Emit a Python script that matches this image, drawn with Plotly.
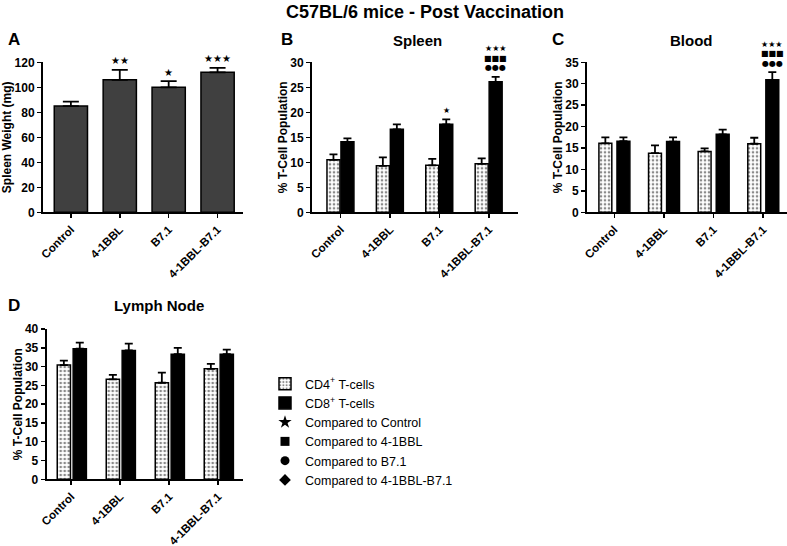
import plotly.graph_objects as go

W, H = 787, 546
FONT = "Arial, Liberation Sans, sans-serif"

categories = ["Control", "4-1BBL", "B7.1", "4-1BBL-B7.1"]

spleen_weight = [85, 106, 100, 112]
spleen_weight_err = [3.5, 8, 5, 3.5]
spleen_weight_sig = [[], ["★★"], ["★"], ["★★★"]]

spleen_cd4 = [10.5, 9.3, 9.4, 9.7]
spleen_cd4_err = [1.1, 1.7, 1.3, 1.1]
spleen_cd8 = [14.1, 16.6, 17.6, 26.1]
spleen_cd8_err = [0.7, 1.0, 1.0, 1.0]
spleen_cd8_sig = [[], [], ["★"], ["★★★", "■■■", "●●●"]]

blood_cd4 = [16.1, 13.8, 14.2, 16.0]
blood_cd4_err = [1.4, 1.8, 0.7, 1.4]
blood_cd8 = [16.6, 16.5, 18.2, 30.9]
blood_cd8_err = [0.9, 1.0, 1.1, 1.8]
blood_cd8_sig = [[], [], [], ["★★★", "■■■", "●●●"]]

lymph_cd4 = [30.4, 26.6, 25.7, 29.4]
lymph_cd4_err = [1.2, 1.2, 2.7, 1.3]
lymph_cd8 = [34.75, 34.3, 33.3, 33.3]
lymph_cd8_err = [1.6, 1.8, 1.7, 1.2]

legend_cd4 = "CD4<sup>+</sup> T-cells"
legend_cd8 = "CD8<sup>+</sup> T-cells"
legend_markers = [("star", "Compared to Control"), ("square", "Compared to 4-1BBL"),
                  ("circle", "Compared to B7.1"), ("diamond", "Compared to 4-1BBL-B7.1")]


def px(x):
    return x / W


def py(y):
    return 1 - y / H


fig = go.Figure()

cd4_marker = dict(color="white", line=dict(color="black", width=1.5),
                  pattern=dict(shape=".", fgcolor="#8a8a8a", bgcolor="white", size=4, solidity=0.35))
cd8_marker = dict(color="black", line=dict(color="black", width=1.5))


def err(vals, width):
    return dict(type="data", symmetric=False, array=vals, arrayminus=[0] * len(vals),
                color="black", thickness=1.8, width=width)


# Panel A
fig.add_trace(go.Bar(x=categories, y=spleen_weight, width=0.68,
                     marker=dict(color="#404040", line=dict(color="black", width=1.5)),
                     error_y=err(spleen_weight_err, 8), showlegend=False,
                     xaxis="x", yaxis="y"))

panels = [
    # (cd4, cd4e, cd8, cd8e, xa, ya, off4, off8, width, showlegend)
    (spleen_cd4, spleen_cd4_err, spleen_cd8, spleen_cd8_err, "x2", "y2", -0.277, 0.006, 0.263, True),
    (blood_cd4, blood_cd4_err, blood_cd8, blood_cd8_err, "x3", "y3", -0.31, 0.054, 0.26, False),
    (lymph_cd4, lymph_cd4_err, lymph_cd8, lymph_cd8_err, "x4", "y4", -0.285, 0.04, 0.27, False),
]
for cd4, cd4e, cd8, cd8e, xa, ya, o4, o8, wd, sl in panels:
    fig.add_trace(go.Bar(x=categories, y=cd4, offset=o4, width=wd, marker=cd4_marker,
                         error_y=err(cd4e, 4), name=legend_cd4, showlegend=sl,
                         legendrank=1, xaxis=xa, yaxis=ya))
    fig.add_trace(go.Bar(x=categories, y=cd8, offset=o8, width=wd, marker=cd8_marker,
                         error_y=err(cd8e, 4), name=legend_cd8, showlegend=sl,
                         legendrank=2, xaxis=xa, yaxis=ya))

for i, (sym, name) in enumerate(legend_markers):
    fig.add_trace(go.Scatter(x=[None], y=[None], mode="markers", name=name,
                             marker=dict(symbol=sym, size=9 if sym != "star" else 10, color="black"),
                             legendrank=3 + i, xaxis="x4", yaxis="y4"))

annotations = []


def add_sig(sig, vals, errs, xa, ya, xshift, fsize):
    for c, s, v, e in zip(categories, sig, vals, errs):
        n = len(s)
        for k, txt in enumerate(s):
            level = n - 1 - k
            annotations.append(dict(x=c, y=v + e, xref=xa, yref=ya, text=txt, showarrow=False,
                                    xshift=xshift, yshift=9 + 9.5 * level, yanchor="middle",
                                    xanchor="center",
                                    font=dict(family="DejaVu Sans", size=fsize, color="black")))


add_sig(spleen_weight_sig, spleen_weight, spleen_weight_err, "x", "y", 0, 10)
add_sig(spleen_cd8_sig, spleen_cd8, spleen_cd8_err, "x2", "y2", (0.006 + 0.1315) * 49.4, 8)
add_sig(blood_cd8_sig, blood_cd8, blood_cd8_err, "x3", "y3", (0.054 + 0.13) * 49.7, 8)

# Titles / panel letters
texts = [
    ("C57BL/6 mice - Post Vaccination", 425, 12, 18),
    ("A", 14, 40, 17), ("B", 287, 40, 17), ("C", 558, 40, 17), ("D", 14, 305, 17),
    ("Spleen", 418, 41, 15), ("Blood", 691, 41, 15), ("Lymph Node", 159, 305, 15),
]
for t, x, y, s in texts:
    annotations.append(dict(text=t, x=px(x), y=py(y), xref="paper", yref="paper",
                            showarrow=False, xanchor="center", yanchor="middle",
                            font=dict(family=FONT, size=s, color="black", weight="bold")))

ydom_top = [py(212.3), py(62.3)]
ydom_bot = [py(479.3), py(329)]

ytickfont = dict(family=FONT, size=12, color="black", weight="bold")
xtickfont = dict(family=FONT, size=11.5, color="black", weight="bold")


def xaxis(dom, anchor, rng):
    return dict(domain=dom, anchor=anchor, range=rng, type="category", showline=True,
                linecolor="black", linewidth=2, ticks="outside", ticklen=4, tickwidth=1.5,
                tickcolor="black", tickangle=-45, tickfont=xtickfont, showgrid=False,
                zeroline=False, fixedrange=True, automargin=False)


def yaxis(dom, anchor, rng, dtick, title):
    return dict(domain=dom, anchor=anchor, range=rng, dtick=dtick, showline=True,
                linecolor="black", linewidth=2, ticks="outside", ticklen=4, tickwidth=1.5,
                tickcolor="black", tickfont=ytickfont, showgrid=False, zeroline=False,
                automargin=False, fixedrange=True,
                title=dict(text=title, font=dict(family=FONT, size=12, color="black", weight="bold"),
                           standoff=0))


fig.update_layout(
    template="none",
    width=W, height=H, margin=dict(l=0, r=0, t=0, b=0, pad=0, autoexpand=False),
    paper_bgcolor="white", plot_bgcolor="white",
    barmode="overlay",
    xaxis=xaxis([px(43), px(243)], "y", [-0.57, 3.52]),
    yaxis=yaxis(ydom_top, "x", [0, 120], 20, "Spleen Weight (mg)"),
    xaxis2=xaxis([px(312), px(518)], "y2", [-0.58, 3.59]),
    yaxis2=yaxis(ydom_top, "x2", [0, 30], 5, "% T-Cell Population"),
    xaxis3=xaxis([px(587), px(787)], "y3", [-0.55, 3.48]),
    yaxis3=yaxis(ydom_top, "x3", [0, 35], 5, "% T-Cell Population"),
    xaxis4=xaxis([px(46.7), px(242.7)], "y4", [-0.5, 3.5]),
    yaxis4=yaxis(ydom_bot, "x4", [0, 40], 5, "% T-Cell Population"),
    annotations=annotations,
    legend=dict(x=px(265), y=py(369), xanchor="left", yanchor="top",
                font=dict(family=FONT, size=12.5, color="black"),
                bgcolor="rgba(0,0,0,0)", traceorder="normal", itemclick=False,
                borderwidth=0),
    font=dict(family=FONT, color="black"),
)

fig.write_html("out.html", config={"displayModeBar": False, "staticPlot": True},
               post_script="document.body.style.margin='0';document.body.style.padding='0';")
